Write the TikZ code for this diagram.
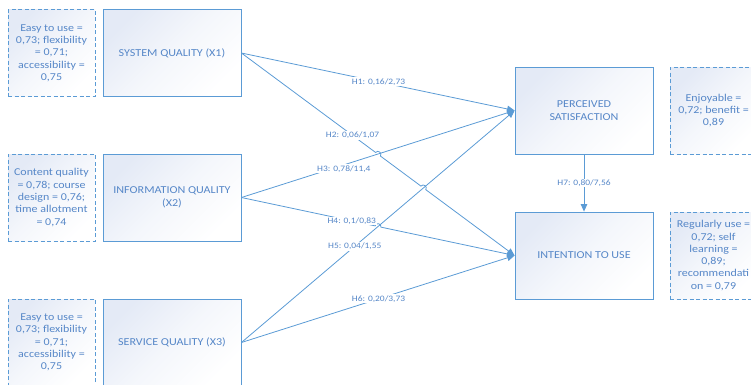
\documentclass[tikz,border=0pt]{standalone}
\usepackage{fontspec}
\setmainfont{Carlito}[FakeStretch=1.14]
\usetikzlibrary{arrows.meta,calc}
\definecolor{edge}{RGB}{91,155,213}
\definecolor{ink}{RGB}{86,135,200}
\definecolor{tint}{RGB}{228,234,246}
\begin{document}
\begin{tikzpicture}[x=1pt,y=-1pt,
  construct/.style={draw=edge, line width=0.8pt, top color=tint, bottom color=white,
    middle color=white!60!tint, shading angle=45, minimum width=138pt, minimum height=87pt, text=ink,
    font=\fontsize{10.6}{12.8}\selectfont, align=center, inner sep=2pt},
  indicator/.style={construct, dash pattern=on 4pt off 2.5pt, minimum width=87pt,
    font=\fontsize{10.5}{12.3}\selectfont},
  link/.style={draw=edge, line width=0.8pt, -{Triangle[length=7.5pt,width=6.5pt]}},
  hop/.style={bend left=90, looseness=1.6},
  coef/.style={fill=white, text=ink, font=\fontsize{8.3}{10}\selectfont, inner sep=1pt}]

\useasboundingbox (0,0) rectangle (751,384);
\clip (0,0) rectangle (751,384);

% exogenous constructs and their indicator loadings
\node[indicator] (d1) at (51.5,53) {Easy to use =\\0,73; flexibility\\= 0,71;\\accessibility =\\0,75};
\node[construct] (sq) at (172,53) {SYSTEM QUALITY (X1)};
\node[indicator] (d2) at (51.5,197.5) {Content quality\\= 0,78; course\\design = 0,76;\\time allotment\\= 0,74};
\node[construct] (iq) at (172,197.5) {INFORMATION QUALITY\\(X2)};
\node[indicator] (d3) at (51.5,342.5) {Easy to use =\\0,73; flexibility\\= 0,71;\\accessibility =\\0,75};
\node[construct] (sv) at (172,342.5) {SERVICE QUALITY (X3)};

% endogenous constructs
\node[construct] (ps) at (584,110.5) {PERCEIVED\\SATISFACTION};
\node[indicator] (d4) at (713.5,110.5) {Enjoyable =\\0,72; benefit =\\0,89};
\node[construct] (iu) at (584,255.5) {INTENTION TO USE};
\node[indicator] (d5) at (713.5,255.5) {Regularly use =\\0,72; self\\learning =\\0,89;\\recommendati\\on = 0,79};

% line crossings that get a small hop
\coordinate (xa) at ($(sq.east)!0.5!(iu.west)$);
\coordinate (xb) at ($(sq.east)!0.666!(iu.west)$);
\coordinate (xc) at ($(iq.east)!0.5!(iu.west)$);

% structural paths
\draw[link] (sq.east) -- (ps.west);
\draw[link] (sq.east) -- ($(xa)!3pt!(sq.east)$) to[hop] ($(xa)!3pt!(iu.west)$)
  -- ($(xb)!3pt!(sq.east)$) to[hop] ($(xb)!3pt!(iu.west)$) -- (iu.west);
\draw[link] (iq.east) -- (ps.west);
\draw[link] (iq.east) -- ($(xc)!3pt!(iq.east)$) to[hop] ($(xc)!3pt!(iu.west)$) -- (iu.west);
\draw[link] (sv.east) -- (ps.west);
\draw[link] (sv.east) -- (iu.west);
\draw[link] (ps.south) -- (iu.north);

% path coefficients
\node[coef] (h1) at ($(sq.east)!0.502!(ps.west)$) {H1: 0,16/2,73};
\node[coef] (h2) at ($(sq.east)!0.407!(iu.west)$) {H2: 0,06/1,07};
\node[coef, yshift=-4pt] (h3) at ($(iq.east)!0.375!(ps.west)$) {H3: 0,78/11,4};
\node[coef] (h4) at ($(iq.east)!0.404!(iu.west)$) {H4: 0,1/0,83};
\node[coef] (h5) at ($(sv.east)!0.415!(ps.west)$) {H5: 0,04/1,55};
\node[coef] (h6) at ($(sv.east)!0.502!(iu.west)$) {H6: 0,20/3,73};
\node[coef] (h7) at ($(ps.south)!0.5!(iu.north)$) {H7: 0,80/7,56};
\end{tikzpicture}
\end{document}
